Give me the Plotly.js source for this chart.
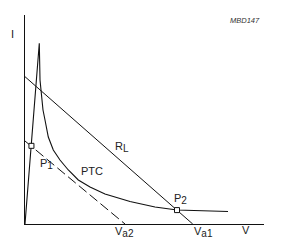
<!DOCTYPE html>
<html>
<head>
<meta charset="utf-8">
<script src="https://cdn.plot.ly/plotly-3.0.1.min.js"></script>
<style>html,body{margin:0;padding:0;background:#fff;}#chart{width:287px;height:248px;}</style>
</head>
<body>
<div id="chart"></div>
<script>
// PTC characteristic (V, I) in arbitrary units
const ptcV = [0, 0.598, 0.628, 0.690, 0.753, 0.837, 0.975, 1.184, 1.464, 1.812, 2.230, 2.720, 3.347, 4.393, 5.439, 6.360, 7.322, 8.494];
const ptcI = [0, 8.646, 6.890, 6.077, 5.455, 4.976, 4.163, 3.541, 3.062, 2.584, 2.105, 1.770, 1.435, 1.077, 0.813, 0.670, 0.622, 0.598];
// Load line R_L
const loadV = [0, 7.017];
const loadI = [7.048, 0];
// Dashed load line (lower supply voltage Va2)
const dashV = [0, 4.184];
const dashI = [3.971, 0];
// Operating points
const pointV = [0.27, 6.36];
const pointI = [3.74, 0.665];

const font = {family: 'Liberation Sans, Arial, sans-serif', size: 11, color: '#222'};
const XMAX = 10, YMAX = 10;

const traces = [
  {x: ptcV, y: ptcI, mode: 'lines', line: {color: '#111', width: 1.1}, hoverinfo: 'skip'},
  {x: loadV, y: loadI, mode: 'lines', line: {color: '#111', width: 1}, hoverinfo: 'skip'},
  {x: dashV, y: dashI, mode: 'lines', line: {color: '#111', width: 1, dash: '10px,4px'}, hoverinfo: 'skip'},
  {x: pointV, y: pointI, mode: 'markers', marker: {symbol: 'square', size: 5, color: '#fff', line: {color: '#111', width: 1}}, hoverinfo: 'skip'}
];

function sub(s) { return '<sub><span style="font-size:10px">' + s + '</span></sub>'; }
// positions given in axis units, converted to paper fractions so labels outside the plot area are kept
function ann(text, x, y, xanchor, extra) {
  return Object.assign({text: text, x: x / XMAX, y: y / YMAX, xref: 'paper', yref: 'paper', showarrow: false, xanchor: xanchor || 'center', yanchor: 'middle', font: font}, extra || {});
}

const layout = {
  width: 287, height: 248,
  margin: {l: 25, r: 23, t: 15, b: 24, pad: 0},
  paper_bgcolor: '#fff', plot_bgcolor: '#fff',
  showlegend: false,
  xaxis: {range: [0, XMAX], showline: true, linecolor: '#111', linewidth: 1, showgrid: false, zeroline: false, showticklabels: false, ticks: '', fixedrange: true},
  yaxis: {range: [0, YMAX], showline: true, linecolor: '#111', linewidth: 1, showgrid: false, zeroline: false, showticklabels: false, ticks: '', fixedrange: true},
  annotations: [
    ann('I', -0.52, 9.07),
    ann('<i>MBD147</i>', 9.2, 9.76, 'center', {font: {family: 'Liberation Sans, Arial, sans-serif', size: 7.5, color: '#333'}}),
    ann('R' + sub('L'), 3.68, 3.70, 'left'),
    ann('PTC', 2.80, 2.54),
    ann('P' + sub('1'), 0.54, 2.85, 'left'),
    ann('P' + sub('2'), 6.15, 1.22, 'left'),
    ann('V' + sub('a2'), 3.68, -0.40, 'left'),
    ann('V' + sub('a1'), 6.99, -0.40, 'left'),
    ann('V', 9.23, -0.30)
  ]
};

Plotly.newPlot('chart', traces, layout, {staticPlot: true, displayModeBar: false});
</script>
</body>
</html>
